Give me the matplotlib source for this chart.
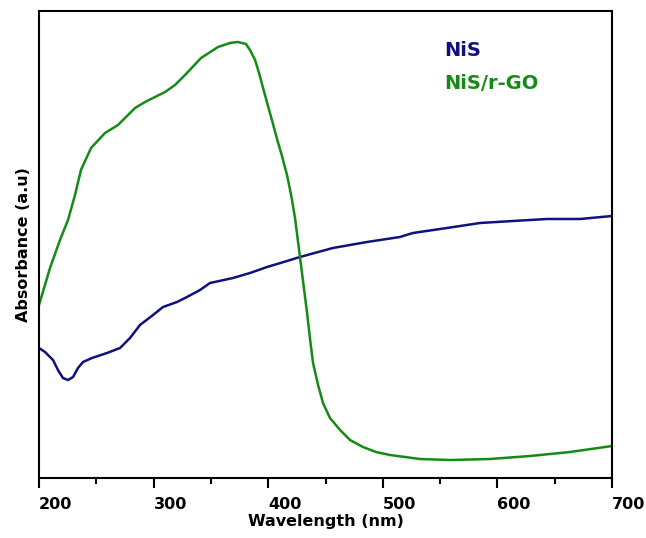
import matplotlib.pyplot as plt
from matplotlib.ticker import MultipleLocator

# NiS absorbance (arbitrary units)
nis_wl = [200.0, 205.2, 212.2, 217.0, 220.9, 225.3, 229.7, 234.0, 238.4, 246.2,
          259.3, 270.7, 279.4, 288.1, 299.5, 308.2, 320.4, 329.1, 340.5, 349.2,
          369.3, 384.1, 399.0, 416.4, 427.7, 456.5, 486.2, 515.0, 526.3, 556.0,
          584.8, 613.6, 643.3, 672.1, 700.0]
nis_abs = [1.30, 1.26, 1.18, 1.07, 1.00, 0.98, 1.01, 1.10, 1.16, 1.20,
           1.25, 1.30, 1.40, 1.53, 1.63, 1.71, 1.76, 1.81, 1.88, 1.95,
           2.00, 2.05, 2.11, 2.17, 2.21, 2.30, 2.36, 2.41, 2.45, 2.50,
           2.55, 2.57, 2.59, 2.59, 2.62]

# NiS/r-GO absorbance (arbitrary units)
nisgo_wl = [200.0, 209.6, 218.3, 225.3, 231.4, 236.6, 245.4, 257.6, 268.9, 283.8,
            292.5, 310.0, 318.7, 327.4, 341.4, 356.2, 366.7, 373.6, 380.6, 384.1,
            388.5, 392.0, 395.5, 399.8, 403.7, 407.7, 412.0, 416.4, 420.0, 423.4,
            427.7, 430.8, 433.9, 436.5, 439.1, 443.5, 447.8, 453.9, 462.7, 471.4,
            482.7, 494.0, 506.3, 532.5, 558.6, 593.5, 628.4, 663.4, 700.0]
nisgo_abs = [1.73, 2.10, 2.38, 2.58, 2.83, 3.08, 3.30, 3.45, 3.53, 3.70,
             3.76, 3.86, 3.93, 4.03, 4.20, 4.31, 4.35, 4.36, 4.34, 4.28,
             4.18, 4.05, 3.90, 3.72, 3.56, 3.39, 3.22, 3.03, 2.83, 2.60,
             2.21, 1.93, 1.65, 1.39, 1.15, 0.93, 0.75, 0.60, 0.48, 0.38,
             0.31, 0.26, 0.23, 0.19, 0.18, 0.19, 0.22, 0.26, 0.32]

blue = "#10107f"
green = "#168a16"

fig = plt.figure(figsize=(6.46, 5.38), dpi=100)
ax = fig.add_axes([0.0604, 0.1115, 0.8870, 0.8681])

ax.plot(nis_wl, nis_abs, color=blue, lw=1.8)
ax.plot(nisgo_wl, nisgo_abs, color=green, lw=1.8)

ax.set_xlim(200, 700)
ax.set_ylim(0, 4.67)

ax.xaxis.set_major_locator(MultipleLocator(100))
ax.xaxis.set_minor_locator(MultipleLocator(50))
ax.tick_params(axis="x", which="major", direction="out", length=7, width=1.5, pad=7)
ax.tick_params(axis="x", which="minor", direction="out", length=4, width=1.5)
ax.set_yticks([])
for lab in ax.get_xticklabels():
    lab.set_horizontalalignment("left")
    lab.set_fontsize(11.5)
    lab.set_fontweight("bold")
for sp in ax.spines.values():
    sp.set_linewidth(1.5)

ax.set_xlabel("Wavelength (nm)", fontsize=11.5, fontweight="bold", labelpad=1)
ax.set_ylabel("Absorbance (a.u)", fontsize=11.5, fontweight="bold", labelpad=6)

ax.text(0.708, 0.915, "NiS", transform=ax.transAxes, color=blue,
        fontsize=14, fontweight="bold", va="center")
ax.text(0.708, 0.845, "NiS/r-GO", transform=ax.transAxes, color=green,
        fontsize=14, fontweight="bold", va="center")

plt.savefig("out.png", dpi=100)
